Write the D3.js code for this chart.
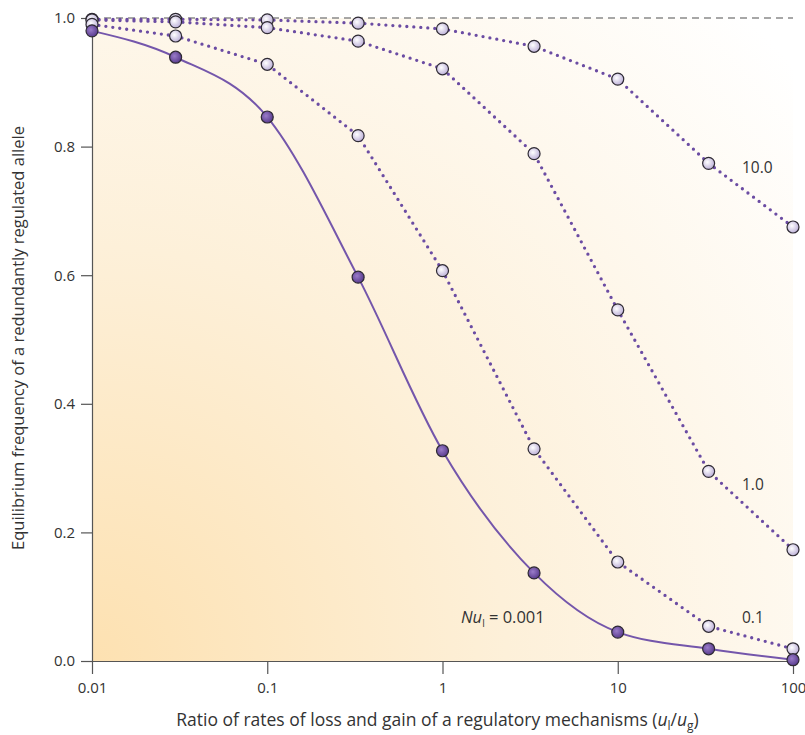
<!DOCTYPE html>
<html>
<head>
<meta charset="utf-8">
<script src="https://cdn.jsdelivr.net/npm/d3@7"></script>
<style>
  body { margin: 0; background: #fff; }
  svg text { font-family: "Open Sans", Lato, sans-serif; fill: #333; }
</style>
</head>
<body>
<svg id="chart" width="805" height="735"></svg>
<script>
// ratio u_l / u_g at which the model was evaluated
var ratios = [0.01, 0.03, 0.1, 0.33, 1, 3.33, 10, 33, 100];

// equilibrium frequency, one array per Nu_l
var freq0001 = [0.980, 0.939, 0.846, 0.597, 0.327, 0.137, 0.045, 0.019, 0.002];
var freq01   = [0.990, 0.972, 0.928, 0.817, 0.607, 0.330, 0.154, 0.054, 0.019];
var freq1    = [0.997, 0.994, 0.985, 0.964, 0.921, 0.789, 0.546, 0.295, 0.173];
var freq10   = [0.998, 0.998, 0.997, 0.992, 0.983, 0.956, 0.905, 0.774, 0.675];

var xTicks = [0.01, 0.1, 1, 10, 100];
var xTickLabels = ["0.01", "0.1", "1", "10", "100"];
var yTicks = [0, 0.2, 0.4, 0.6, 0.8, 1.0];

var svg = d3.select("#chart");
var margin = {left: 92, right: 12, top: 18, bottom: 74};
var width = 805 - margin.left - margin.right,
    height = 735 - margin.top - margin.bottom;

var x = d3.scaleLog().domain([0.01, 100]).range([0, width]);
var y = d3.scaleLinear().domain([0, 1]).range([height, 0]);

var defs = svg.append("defs");

var bg = defs.append("radialGradient")
    .attr("id", "bg")
    .attr("gradientUnits", "userSpaceOnUse")
    .attr("cx", 0).attr("cy", height)
    .attr("r", 920);
bg.append("stop").attr("offset", 0).attr("stop-color", "#fde1b1");
bg.append("stop").attr("offset", 0.45).attr("stop-color", "#fdf0d9");
bg.append("stop").attr("offset", 1).attr("stop-color", "#ffffff");

var dark = defs.append("radialGradient")
    .attr("id", "darkDot").attr("cx", 0.4).attr("cy", 0.4).attr("r", 0.65);
dark.append("stop").attr("offset", 0).attr("stop-color", "#9a7cc9");
dark.append("stop").attr("offset", 1).attr("stop-color", "#55378a");

var light = defs.append("radialGradient")
    .attr("id", "lightDot").attr("cx", 0.4).attr("cy", 0.4).attr("r", 0.65);
light.append("stop").attr("offset", 0).attr("stop-color", "#ffffff");
light.append("stop").attr("offset", 1).attr("stop-color", "#b9acd6");

var g = svg.append("g")
    .attr("transform", "translate(" + margin.left + "," + margin.top + ")");

g.append("rect")
    .attr("width", width).attr("height", height)
    .attr("fill", "url(#bg)");

// reference line at 1.0
g.append("line")
    .attr("x1", 0).attr("x2", width)
    .attr("y1", y(1)).attr("y2", y(1))
    .attr("stroke", "#8a8a8a").attr("stroke-width", 1.5)
    .attr("stroke-dasharray", "7,5");

// axes
var xAxis = g.append("g")
    .attr("transform", "translate(0," + height + ")")
    .call(d3.axisBottom(x).tickValues(xTicks)
      .tickFormat(function(d, i) { return xTickLabels[i]; })
      .tickSize(13).tickSizeOuter(0).tickPadding(8));

var yAxis = g.append("g")
    .call(d3.axisLeft(y).tickValues(yTicks).tickFormat(d3.format(".1f"))
      .tickSize(11).tickSizeOuter(0).tickPadding(6));

[xAxis, yAxis].forEach(function(a) {
  a.select(".domain").attr("stroke", "#555").attr("stroke-width", 1.2);
  a.selectAll(".tick line").attr("stroke", "#555").attr("stroke-width", 1.2);
  a.selectAll("text").attr("font-size", 15).attr("fill", "#333")
    .attr("font-family", "'Open Sans', Lato, sans-serif");
});

var line = d3.line()
    .x(function(d, i) { return x(ratios[i]); })
    .y(function(d) { return y(d); });

var dotted = [freq01, freq1, freq10];
dotted.forEach(function(s) {
  g.append("path")
      .attr("d", line.curve(d3.curveLinear)(s))
      .attr("fill", "none")
      .attr("stroke", "#6b4ca3")
      .attr("stroke-width", 3.3)
      .attr("stroke-linecap", "round")
      .attr("stroke-dasharray", "0,7");
});

g.append("path")
    .attr("d", line.curve(d3.curveMonotoneX)(freq0001))
    .attr("fill", "none")
    .attr("stroke", "#7456ab")
    .attr("stroke-width", 2);

function dots(s, fill) {
  g.append("g").selectAll("circle")
    .data(s)
    .join("circle")
      .attr("cx", function(d, i) { return x(ratios[i]); })
      .attr("cy", function(d) { return y(d); })
      .attr("r", 6)
      .attr("fill", fill)
      .attr("stroke", "#2e2a33")
      .attr("stroke-width", 1.2);
}
dots(freq10, "url(#lightDot)");
dots(freq1, "url(#lightDot)");
dots(freq01, "url(#lightDot)");
dots(freq0001, "url(#darkDot)");

// series labels
var labels = g.append("g").attr("font-size", 15.5);
labels.append("text").attr("x", 650).attr("y", 155).text("10.0");
labels.append("text").attr("x", 650).attr("y", 472).text("1.0");
labels.append("text").attr("x", 650).attr("y", 605).text("0.1");
var nu = labels.append("text").attr("x", 369).attr("y", 605).attr("font-size", 16.5);
nu.append("tspan").attr("font-style", "italic").text("Nu");
nu.append("tspan").attr("font-size", 10).attr("dy", 4).text("l");
nu.append("tspan").attr("dy", -4).text(" = 0.001");

// axis titles
var xt = svg.append("text")
    .attr("x", margin.left + width / 2 - 5).attr("y", 726)
    .attr("text-anchor", "middle").attr("font-size", 17.5);
xt.append("tspan").text("Ratio of rates of loss and gain of a regulatory mechanisms (");
xt.append("tspan").attr("font-style", "italic").text("u");
xt.append("tspan").attr("font-size", 12).attr("dy", 4).text("l");
xt.append("tspan").attr("dy", -4).text("/");
xt.append("tspan").attr("font-style", "italic").text("u");
xt.append("tspan").attr("font-size", 12).attr("dy", 4).text("g");
xt.append("tspan").attr("dy", -4).text(")");

svg.append("text")
    .attr("transform", "translate(24,338) rotate(-90)")
    .attr("text-anchor", "middle").attr("font-size", 16.5)
    .text("Equilibrium frequency of a redundantly regulated allele");
</script>
</body>
</html>
